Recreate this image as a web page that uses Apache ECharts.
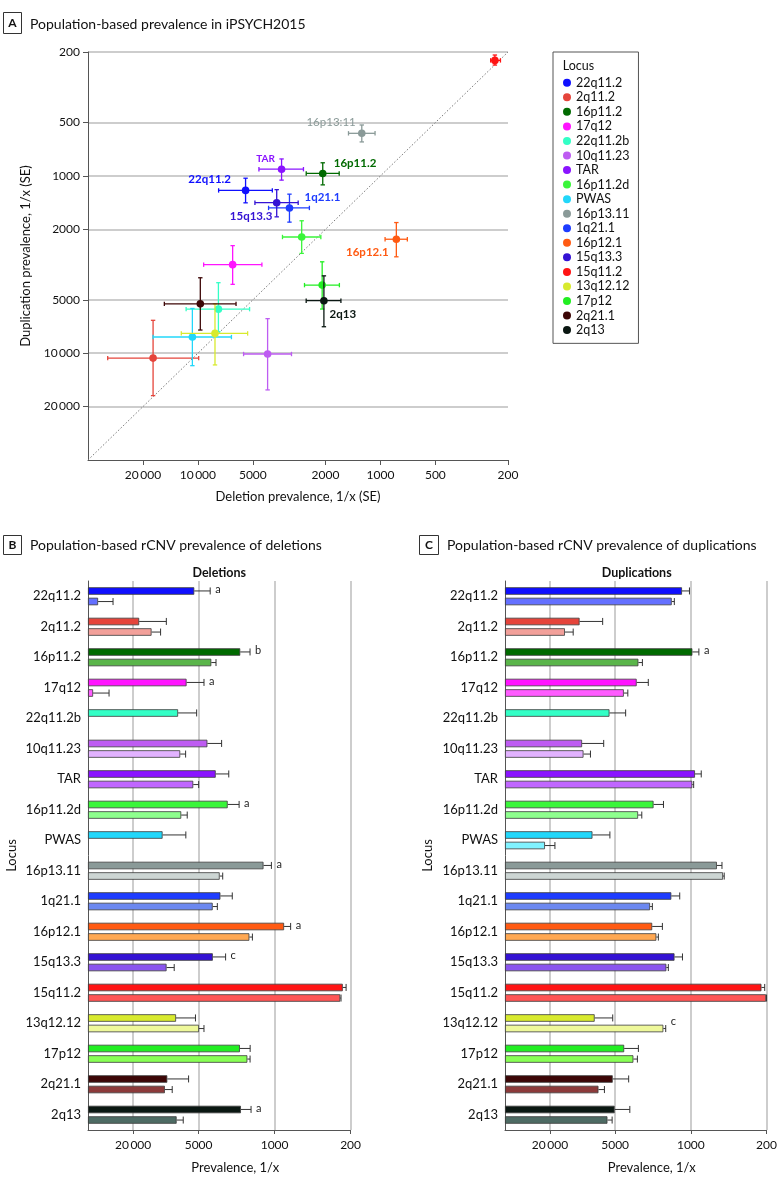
<!DOCTYPE html>
<html><head><meta charset="utf-8">
<script src="https://cdn.jsdelivr.net/npm/echarts@6/dist/echarts.min.js"></script>
<style>html,body{margin:0;padding:0;background:#fff}#c{width:780px;height:1187px}</style>
</head><body><div id="c"></div><script>
// ---------- data (prevalence as 1/x) ----------
const loci = ['22q11.2','2q11.2','16p11.2','17q12','22q11.2b','10q11.23','TAR','16p11.2d','PWAS','16p13.11','1q21.1','16p12.1','15q13.3','15q11.2','13q12.12','17p12','2q21.1','2q13'];
// iPSYCH2015 deletions: estimate and SE interval ends
const delVal = [5480,17600,2070,6450,7720,4150,3480,2700,10720,1265,3150,818,3700,236,8060,2085,9700,2040];
const delLo  = [3910,9900,1682,4460,5210,3070,2640,2120,6550,1070,2450,712,2822,220,5340,1678,6180,1646];
const delHi  = [7700,31200,2550,9300,11600,5620,4630,3440,17600,1496,4100,943,4870,249,12330,2606,15270,2551];
// iPSYCH2015 duplications
const dupVal = [1207,10650,968,3165,5640,10100,916,2210,8100,575,1515,2275,1416,223,7730,4128,5265,5055];
const dupLo  = [1030,6520,843,2472,4000,6380,802,1790,5590,516,1267,1832,1195,208,5266,3050,3752,3660];
const dupHi  = [1418,17340,1123,4087,7561,16100,1056,2734,11750,643,1822,2858,1701,237,11640,5633,7397,7087];
// comparison bars (lighter)
const delRef    = [42000,13540,3820,46700,null,7380,5600,7220,null,3200,3710,1706,9850,249,4960,1780,10210,7960];
const delRefErr = [30600,11180,3458,33300,null,6580,4990,6360,null,3000,3362,1600,8380,245,4461,1681,8740,6920];
const dupRef    = [1502,14550,3051,4159,null,9800,970,3071,22240,505,2380,2083,1684,202,1795,3393,7131,5890];
const dupRefErr = [1421,12200,2802,3820,null,8452,942,2838,17990,492,2267,1995,1614,200,1706,3116,6280,5332];
// footnote letters
const delNote    = ['a','','b','a','','','','a','','a','','a','c','','','','','a'];
const delRefNote = ['','','','','','','','','','','','','','','','','',''];
const dupNote    = ['','','a','','','','','','','','','','','','','','',''];
const dupRefNote = ['','','','','','','','','','','','','','','c','','',''];
// tick labels
const scatterTicks = [200,500,1000,2000,5000,10000,20000];
const barTicks = [20000,5000,1000,200];

// ---------- styles ----------
const mainColors = ['#0f0fff','#e5443b','#006a00','#ff14ff','#33ffc6','#be5cf2','#8a14ff','#3af53a','#22d7fa','#8a9a98','#1e3cff','#ff5a12','#3412d4','#ff1414','#d8ea2e','#22ee22','#3c0606','#0a1712'];
const refColors  = ['#6470ff','#f2a09a','#5ab54a','#ff5cff',null,'#e2b2ff','#c066ff','#8eff8e','#80f2ff','#ccd5d3','#6c88f0','#ffa852','#8a55ee','#ff5555','#eef89a','#88ff55','#8c3a3a','#4e6b64'];
const scatterLabels = {
  '16p13.11': {text:'16p13:11', dx:-6, dy:-10.6, align:'right', weight:'normal'},
  'TAR': {text:'TAR', dx:-16, dy:-10.5, align:'center', size:10},
  '16p11.2': {text:'16p11.2', dx:11, dy:-10.4, align:'left'},
  '22q11.2': {text:'22q11.2', dx:-14.6, dy:-11, align:'right'},
  '1q21.1': {text:'1q21.1', dx:15, dy:-11, align:'left'},
  '15q13.3': {text:'15q13.3', dx:-4.3, dy:13.7, align:'right'},
  '16p12.1': {text:'16p12.1', dx:-7.7, dy:12.7, align:'right'},
  '2q13': {text:'2q13', dx:5.7, dy:14, align:'left'}
};
const FONT = 'Lato, "Noto Sans", sans-serif';
const AXC = '#555';
const GRIDC = '#bcbcbc';

// ---------- transforms (log scale, distance in decades from axis start) ----------
const A0 = 40000, B0 = 52000;
const tA = v => Math.log10(A0 / v);
const tB = v => Math.log10(B0 / v);
const fmtNum = n => n >= 10000 ? String(n).slice(0,-3) + '\u2009' + String(n).slice(-3) : String(n);

const chart = echarts.init(document.getElementById('c'), null, {renderer:'canvas'});

function pointRenderer(i) {
  return function (params, api) {
    const col = mainColors[i];
    const c = api.coord([tA(delVal[i]), tA(dupVal[i])]);
    const xL = api.coord([tA(delHi[i]), 0])[0];
    const xR = api.coord([tA(delLo[i]), 0])[0];
    const yT = api.coord([0, tA(dupLo[i])])[1];
    const yB = api.coord([0, tA(dupHi[i])])[1];
    const cap = 2.2;
    const ls = {stroke: col, lineWidth: 1.3};
    const ch = [
      {type:'line', shape:{x1:xL,y1:c[1],x2:xR,y2:c[1]}, style:ls},
      {type:'line', shape:{x1:c[0],y1:yT,x2:c[0],y2:yB}, style:ls},
      {type:'line', shape:{x1:xL,y1:c[1]-cap,x2:xL,y2:c[1]+cap}, style:ls},
      {type:'line', shape:{x1:xR,y1:c[1]-cap,x2:xR,y2:c[1]+cap}, style:ls},
      {type:'line', shape:{x1:c[0]-cap,y1:yT,x2:c[0]+cap,y2:yT}, style:ls},
      {type:'line', shape:{x1:c[0]-cap,y1:yB,x2:c[0]+cap,y2:yB}, style:ls},
      {type:'circle', shape:{cx:c[0],cy:c[1],r:3.8}, style:{fill:col}}
    ];
    const lab = scatterLabels[loci[i]];
    if (lab) ch.push({type:'text', x:c[0]+lab.dx, y:c[1]+lab.dy,
      style:{text:lab.text, fill:col, font:(lab.weight||'bold')+' '+(lab.size||11.5)+'px '+FONT, align:lab.align, verticalAlign:'middle'}});
    return {type:'group', children:ch};
  };
}

function barErrRenderer(mainV, mainE, refV, refE, mainN, refN) {
  return function (params, api) {
    const i = params.dataIndex;
    const ch = [];
    [[mainV[i], mainE[i], -1, mainN[i]], [refV[i], refE[i], 1, refN[i]]].forEach(function (r) {
      if (r[0] == null) return;
      const p0 = api.coord([tB(r[0]), i]);
      const p1 = api.coord([tB(r[1]), i]);
      const y = p0[1] + r[2] * 5.3;
      const ls = {stroke:'#333', lineWidth:1};
      ch.push({type:'line', shape:{x1:p0[0],y1:y,x2:p1[0],y2:y}, style:ls});
      ch.push({type:'line', shape:{x1:p1[0],y1:y-3.5,x2:p1[0],y2:y+3.5}, style:ls});
      if (r[3]) ch.push({type:'text', x:p1[0]+5, y:y + (r[2] > 0 ? -7 : -1),
        style:{text:r[3], fill:'#222', font:'11px '+FONT, align:'left', verticalAlign:'middle'}});
    });
    return {type:'group', children:ch};
  };
}

function valueAxisA(idx, name, nameGap, showSplit) {
  return {
    gridIndex:0, type:'value', min:0, max:tA(200),
    name:name, nameLocation:'middle', nameGap:nameGap,
    nameTextStyle:{fontFamily:FONT, fontSize:13, color:'#111'},
    axisLine:{show:true, onZero:false, lineStyle:{color:AXC, width:1}},
    axisTick:{show:true, length:5, customValues:scatterTicks.map(tA), lineStyle:{color:AXC}},
    axisLabel:{customValues:scatterTicks.map(tA), fontFamily:FONT, fontSize:12, color:'#111', margin:idx===0?9:8,
      formatter:v => fmtNum(Math.round(A0/Math.pow(10,v)))},
    splitLine:{show:showSplit, lineStyle:{color:GRIDC, width:1.5}}
  };
}
function valueAxisB(g) {
  return {
    gridIndex:g, type:'value', min:0, max:tB(200),
    name:'Prevalence, 1/x', nameLocation:'middle', nameGap:31,
    nameTextStyle:{fontFamily:FONT, fontSize:13, color:'#111', padding:[0,0,0,32]},
    axisLine:{show:true, onZero:false, lineStyle:{color:AXC, width:1}},
    axisTick:{show:true, length:4, customValues:barTicks.map(tB), lineStyle:{color:AXC}},
    axisLabel:{customValues:barTicks.map(tB), fontFamily:FONT, fontSize:12, color:'#111', margin:9,
      formatter:v => fmtNum(Math.round(B0/Math.pow(10,v)))},
    splitLine:{show:true, lineStyle:{color:GRIDC, width:1.5}}
  };
}
function catAxis(g, gap) {
  return {
    gridIndex:g, type:'category', data:loci, inverse:true,
    name:'Locus', nameLocation:'middle', nameGap:gap,
    nameTextStyle:{fontFamily:FONT, fontSize:13, color:'#111'},
    axisLine:{show:true, lineStyle:{color:AXC, width:1}},
    axisTick:{show:false},
    axisLabel:{fontFamily:FONT, fontSize:13, color:'#111', margin:7, interval:0},
    splitLine:{show:false}
  };
}

const series = [];
series.push({type:'line', xAxisIndex:0, yAxisIndex:0, data:[[0,0],[tA(200),tA(200)]], symbol:'none', silent:true,
  lineStyle:{color:'#777', width:1, type:[1.5,2]}, z:1});
loci.forEach(function (name, i) {
  series.push({type:'custom', name:name, xAxisIndex:0, yAxisIndex:0, clip:false,
    itemStyle:{color:mainColors[i]}, data:[[tA(delVal[i]), tA(dupVal[i])]], renderItem:pointRenderer(i), z:3});
});
function barData(vals, cols) {
  return vals.map((v, i) => v == null ? null : {value:tB(v), itemStyle:{color:cols[i]}});
}
const barStyle = {borderColor:'#3a3a3a', borderWidth:0.8};
[[1, delVal, delLo, delRef, delRefErr, delNote, delRefNote], [2, dupVal, dupLo, dupRef, dupRefErr, dupNote, dupRefNote]].forEach(function (p) {
  const g = p[0];
  series.push({type:'bar', name:'main'+g, xAxisIndex:g, yAxisIndex:g, data:barData(p[1], mainColors), barWidth:7.5, barGap:'40%', itemStyle:barStyle, z:2});
  series.push({type:'bar', name:'ref'+g, xAxisIndex:g, yAxisIndex:g, data:barData(p[3], refColors), barWidth:7.5, barGap:'40%', itemStyle:barStyle, z:2});
  series.push({type:'custom', name:'err'+g, xAxisIndex:g, yAxisIndex:g, clip:false, z:1,
    data:loci.map((n, i) => [0, i]), renderItem:barErrRenderer(p[1], p[2], p[3], p[4], p[5], p[6])});
});

function txt(x, y, s, font, align) {
  return {type:'text', x:x, y:y, style:{text:s, font:font, fill:'#111', align:align||'left', verticalAlign:'middle'}};
}
function box(x, y, w, h) {
  return {type:'rect', shape:{x:x, y:y, width:w, height:h}, style:{fill:'#fff', stroke:'#333', lineWidth:1}};
}

chart.setOption({
  animation:false,
  backgroundColor:'#fff',
  textStyle:{fontFamily:FONT},
  grid:[
    {left:88, top:52, width:420, height:408},
    {left:88, top:581, width:262.6, height:549},
    {left:505, top:581, width:262.7, height:549}
  ],
  xAxis:[valueAxisA(0, 'Deletion prevalence, 1/x (SE)', 30, false), valueAxisB(1), valueAxisB(2)],
  yAxis:[valueAxisA(1, 'Duplication prevalence, 1/x (SE)', 54, true), catAxis(1, 70), catAxis(2, 71)],
  legend:{orient:'vertical', left:553, top:52, selectedMode:false,
    data:loci.map(n => ({name:n, icon:'circle'})),
    itemWidth:8, itemHeight:8, itemGap:0.05,
    padding:[23.5, 9, 6, 10], borderColor:'#555', borderWidth:1,
    textStyle:{fontFamily:FONT, fontSize:12.5, color:'#111', lineHeight:14.5}},
  graphic:[
    box(3.5, 12.5, 18, 21), txt(12.5, 23, 'A', 'bold 12px '+FONT, 'center'),
    txt(30, 24, 'Population-based prevalence in iPSYCH2015', '14px '+FONT),
    txt(562.7, 65.7, 'Locus', '12.5px '+FONT),
    box(3.5, 535.5, 18, 19), txt(12.5, 545, 'B', 'bold 12px '+FONT, 'center'),
    txt(30, 545, 'Population-based rCNV prevalence of deletions', '14px '+FONT),
    box(419.5, 535.5, 19, 19), txt(429, 545, 'C', 'bold 12px '+FONT, 'center'),
    txt(447, 545, 'Population-based rCNV prevalence of duplications', '14px '+FONT),
    txt(219.3, 573.3, 'Deletions', 'bold 12.5px '+FONT, 'center'),
    txt(636.7, 573.3, 'Duplications', 'bold 12.5px '+FONT, 'center')
  ],
  series:series
});
</script></body></html>
